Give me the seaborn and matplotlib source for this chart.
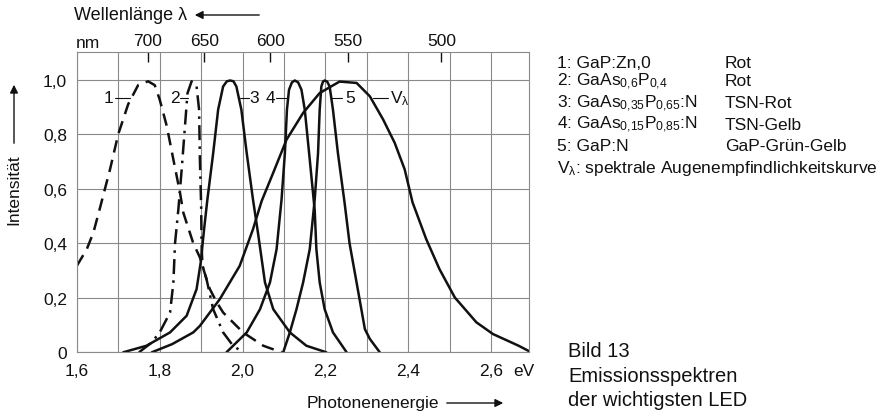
import numpy as np
import matplotlib
matplotlib.use("Agg")
import matplotlib.pyplot as plt
import seaborn as sns
from matplotlib import font_manager

# emission spectra of the LEDs, photon energy in eV vs. relative intensity
e1 = [1.600, 1.624, 1.640, 1.656, 1.680, 1.700, 1.724, 1.748, 1.772, 1.788, 1.800, 1.817,
      1.833, 1.849, 1.857, 1.881, 1.897, 1.913, 1.921, 1.937, 1.953, 2.001, 2.050, 2.094]
i1 = [0.317, 0.378, 0.439, 0.530, 0.670, 0.800, 0.910, 0.980, 0.994, 0.980, 0.927, 0.830,
      0.707, 0.585, 0.512, 0.400, 0.348, 0.268, 0.232, 0.185, 0.146, 0.073, 0.024, 0.0]

e2 = [1.750, 1.780, 1.800, 1.825, 1.833, 1.837, 1.845, 1.853, 1.861, 1.867, 1.877, 1.889,
      1.895, 1.897, 1.900, 1.901, 1.903, 1.913, 1.929, 1.953, 1.977, 2.001]
i2 = [0.0, 0.035, 0.073, 0.146, 0.256, 0.400, 0.524, 0.670, 0.830, 0.950, 0.994, 0.975,
      0.890, 0.707, 0.536, 0.400, 0.320, 0.268, 0.158, 0.073, 0.024, 0.0]

e3 = [1.712, 1.768, 1.825, 1.865, 1.889, 1.899, 1.907, 1.915, 1.929, 1.941, 1.953, 1.962,
      1.970, 1.978, 1.985, 1.997, 2.010, 2.025, 2.037, 2.054, 2.074, 2.114, 2.154, 2.202]
i3 = [0.0, 0.024, 0.073, 0.134, 0.232, 0.330, 0.450, 0.560, 0.730, 0.890, 0.975, 0.994,
      0.997, 0.994, 0.975, 0.890, 0.730, 0.561, 0.439, 0.256, 0.158, 0.073, 0.024, 0.0]

e4 = [1.961, 2.010, 2.042, 2.066, 2.082, 2.094, 2.102, 2.107, 2.112, 2.119, 2.126, 2.134,
      2.142, 2.150, 2.162, 2.174, 2.178, 2.186, 2.198, 2.218, 2.251]
i4 = [0.0, 0.073, 0.158, 0.256, 0.378, 0.561, 0.730, 0.890, 0.963, 0.990, 0.997, 0.990,
      0.963, 0.890, 0.707, 0.520, 0.378, 0.256, 0.158, 0.073, 0.0]

e5 = [2.098, 2.114, 2.130, 2.146, 2.162, 2.174, 2.182, 2.186, 2.190, 2.194, 2.198, 2.204,
      2.210, 2.218, 2.230, 2.246, 2.258, 2.275, 2.295, 2.307, 2.331]
i5 = [0.0, 0.073, 0.158, 0.256, 0.378, 0.561, 0.730, 0.890, 0.975, 0.993, 0.997, 0.993,
      0.975, 0.890, 0.730, 0.549, 0.400, 0.256, 0.085, 0.049, 0.0]

ev = [1.781, 1.830, 1.881, 1.897, 1.945, 1.993, 2.025, 2.046, 2.074, 2.106, 2.146, 2.186,
      2.234, 2.275, 2.307, 2.339, 2.367, 2.391, 2.410, 2.443, 2.475, 2.512, 2.564, 2.604,
      2.666, 2.690]
iv = [0.0, 0.030, 0.073, 0.097, 0.195, 0.317, 0.451, 0.555, 0.659, 0.780, 0.878, 0.951,
      0.993, 0.988, 0.939, 0.854, 0.768, 0.671, 0.550, 0.415, 0.305, 0.201, 0.110, 0.067,
      0.024, 0.005]

x_ticks = [1.6, 1.8, 2.0, 2.2, 2.4, 2.6]
x_tick_labels = ["1,6", "1,8", "2,0", "2,2", "2,4", "2,6"]
y_ticks = [0, 0.2, 0.4, 0.6, 0.8, 1.0]
y_tick_labels = ["0", "0,2", "0,4", "0,6", "0,8", "1,0"]
nm_ticks = [700, 650, 600, 550, 500]

legend_rows = [
    ("1: GaP:Zn,0", "Rot"),
    ("2: GaAs$_{0{,}6}$P$_{0{,}4}$", "Rot"),
    ("3: GaAs$_{0{,}35}$P$_{0{,}65}$:N", "TSN-Rot"),
    ("4: GaAs$_{0{,}15}$P$_{0{,}85}$:N", "TSN-Gelb"),
    ("5: GaP:N", "GaP-Grün-Gelb"),
]

sns.set_style("white")
names = {f.name for f in font_manager.fontManager.ttflist}
narrow = "Liberation Sans Narrow" if "Liberation Sans Narrow" in names else "Liberation Sans"
plt.rcParams["font.family"] = [narrow, "DejaVu Sans"]
plt.rcParams["mathtext.default"] = "regular"

W, H = 893, 414
fig = plt.figure(figsize=(W / 100, H / 100), dpi=100)
ax = fig.add_axes([76.8 / W, (H - 353.3) / H, (528.6 - 76.8) / W, (353.3 - 53.4) / H])

ink = "#111111"
lw = 1.8
sns.lineplot(x=e1, y=i1, ax=ax, color=ink, lw=lw, linestyle=(0, (5, 3)), estimator=None, sort=False)
sns.lineplot(x=e2, y=i2, ax=ax, color=ink, lw=lw, linestyle=(0, (6, 2.5, 1, 2.5)), estimator=None, sort=False)
for ex, iy in [(e3, i3), (e4, i4), (e5, i5), (ev, iv)]:
    sns.lineplot(x=ex, y=iy, ax=ax, color=ink, lw=lw, estimator=None, sort=False)

ax.set_xlim(1.6, 2.69)
ax.set_ylim(0, 1.1)
ax.set_xticks(x_ticks)
ax.set_xticklabels(x_tick_labels)
ax.set_xticks(np.arange(1.7, 2.65, 0.2), minor=True)
ax.set_yticks(y_ticks)
ax.set_yticklabels(y_tick_labels)
ax.grid(True, which="both", color="#8a8a8a", lw=0.8)
ax.tick_params(axis="both", which="both", length=0, labelsize=12.5, colors=ink)
ax.tick_params(axis="x", pad=8)
ax.tick_params(axis="y", pad=7)
for s in ax.spines.values():
    s.set_color("#8a8a8a")
    s.set_linewidth(0.8)
ax.set_xlabel("")
ax.set_ylabel("")

# wavelength scale on top
sec = ax.secondary_xaxis("top", functions=(lambda e: 1239.84 / np.maximum(e, 1e-3),
                                           lambda l: 1239.84 / np.maximum(l, 1e-3)))
sec.set_xticks(nm_ticks)
sec.set_xticklabels([str(n) for n in nm_ticks])
sec.tick_params(direction="in", length=7, width=1, color=ink, labelsize=12.5, pad=3, labelcolor=ink)
sec.spines["top"].set_visible(False)

# curve labels with leader lines
lab = dict(fontsize=12.5, va="center", color=ink)
yl = 0.933
ax.text(1.676, yl, "1", ha="center", **lab)
ax.plot([1.692, 1.728], [yl, yl], color=ink, lw=0.8)
ax.text(1.837, yl, "2", ha="center", **lab)
ax.plot([1.849, 1.869], [yl, yl], color=ink, lw=0.8)
ax.plot([1.993, 2.015], [yl, yl], color=ink, lw=0.8)
ax.text(2.027, yl, "3", ha="center", **lab)
ax.text(2.068, yl, "4", ha="center", **lab)
ax.plot([2.080, 2.107], [yl, yl], color=ink, lw=0.8)
ax.plot([2.214, 2.240], [yl, yl], color=ink, lw=0.8)
ax.text(2.259, yl, "5", ha="center", **lab)
ax.plot([2.315, 2.351], [yl, yl], color=ink, lw=0.8)
ax.text(2.355, yl, "V$_{λ}$", ha="left", **lab)

# outer labels and arrows
def fx(px):
    return px / W

def fy(py):
    return 1 - py / H

fig.text(fx(74), fy(16), "Wellenlänge λ", fontsize=13, va="center", ha="left", color=ink)
fig.add_artist(matplotlib.patches.FancyArrowPatch((fx(262), fy(16)), (fx(192), fy(16)),
               transform=fig.transFigure, arrowstyle="-|>", mutation_scale=12, color=ink, lw=1))
fig.text(fx(76), fy(43), "nm", fontsize=12.5, va="center", ha="left", color=ink)

fig.text(fx(14), fy(190), "Intensität", fontsize=12.5, rotation=90, va="center", ha="center", color=ink)
fig.add_artist(matplotlib.patches.FancyArrowPatch((fx(14), fy(147)), (fx(14), fy(83)),
               transform=fig.transFigure, arrowstyle="-|>", mutation_scale=12, color=ink, lw=1))

fig.text(fx(373), fy(404), "Photonenenergie", fontsize=12.5, va="center", ha="center", color=ink)
fig.add_artist(matplotlib.patches.FancyArrowPatch((fx(444), fy(404)), (fx(506), fy(404)),
               transform=fig.transFigure, arrowstyle="-|>", mutation_scale=12, color=ink, lw=1))
fig.text(fx(513), fy(372), "eV", fontsize=12.5, va="center", ha="left", color=ink)

# legend block on the right
row_y = [63, 82, 103.5, 125, 146.7]
for (name, colour), yy in zip(legend_rows, row_y):
    fig.text(fx(557), fy(yy), name, fontsize=12.5, va="center", ha="left", color=ink)
    fig.text(fx(725), fy(yy), colour, fontsize=12.5, va="center", ha="left", color=ink)
fig.text(fx(557), fy(168), "V$_{λ}$: spektrale Augenempfindlichkeitskurve", fontsize=12.5,
         va="center", ha="left", color=ink)

cap = dict(fontsize=14.5, va="center", ha="left", color=ink, family=["Liberation Sans", "DejaVu Sans"])
fig.text(fx(568), fy(352), "Bild 13", **cap)
fig.text(fx(568), fy(377), "Emissionsspektren", **cap)
fig.text(fx(568), fy(401), "der wichtigsten LED", **cap)

fig.savefig("out.png", dpi=100)
